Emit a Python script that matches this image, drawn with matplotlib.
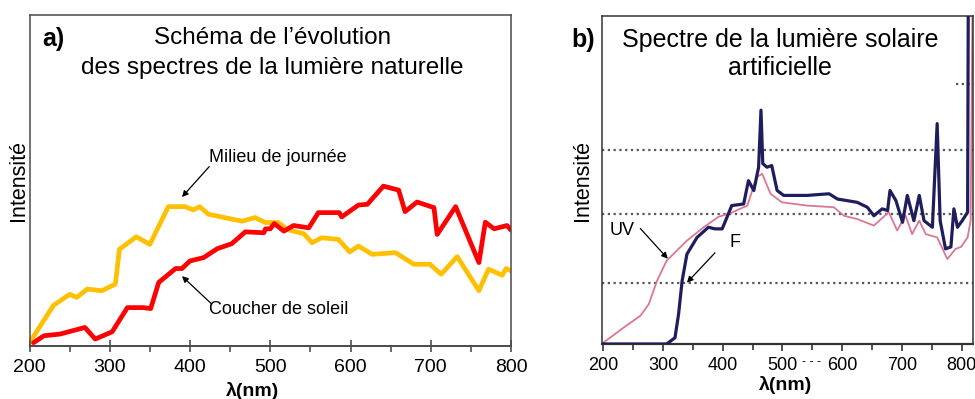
import matplotlib.pyplot as plt

plt.rcParams['font.family'] = ['Liberation Sans', 'DejaVu Sans']

# panel a) - natural light (schematic)
midday_nm = [200, 230, 250, 259, 272, 290, 307, 312, 333, 350, 373, 394, 404, 412, 423,
             465, 481, 494, 510, 521, 542, 552, 564, 585, 599, 610, 627, 656, 679, 699,
             713, 733, 760, 772, 789, 794, 800]
midday_int = [1, 12.3, 15.6, 14.7, 17.2, 16.7, 18.7, 29.2, 33, 30.7, 42.1, 42.1, 41.1, 42.1, 39.8,
              37.7, 38.8, 37.3, 37.3, 35.2, 33.9, 31.2, 32.7, 32.2, 28.4, 30.2, 27.7, 28.2, 24.7, 24.7,
              21.7, 27, 16.7, 23.2, 21.4, 23.4, 22.7]

sunset_nm = [205, 218, 238, 269, 282, 303, 322, 342, 351, 361, 382, 390, 400, 417, 434,
             452, 469, 492, 494, 500, 505, 517, 529, 548, 560, 586, 589, 610, 621, 641,
             660, 668, 683, 704, 708, 731, 760, 768, 779, 795, 800]
sunset_int = [1, 3.1, 3.6, 5.6, 2.1, 4.3, 11.6, 11.6, 11.3, 19.2, 23.4, 23.4, 25.7, 26.7, 29.4,
              30.9, 34.5, 34.2, 35.4, 35.4, 37, 34.7, 36.4, 35.7, 40.3, 40.3, 39, 42.6, 42.8, 48.3,
              47.1, 40.6, 43.5, 41.8, 33.7, 42.1, 25.2, 37.4, 35.4, 36.4, 35]

# panel b) - artificial solar light
uv_nm = [200, 211, 234, 262, 276, 290, 306, 340, 368, 393, 413, 441, 457, 466, 480,
         499, 541, 586, 603, 625, 653, 678, 692, 706, 717, 729, 740, 759, 776, 790,
         799, 810, 815, 818]
uv_int = [0.4, 1.9, 5.0, 8.6, 12.1, 19.3, 25.4, 31.5, 35.6, 38.8, 39.9, 42.2, 50.9, 51.9, 45.8,
          43.2, 42.2, 41.7, 39.1, 38.1, 36.1, 40.2, 34.6, 39.2, 33.5, 37.6, 33.5, 32.5, 25.9, 29,
          29.6, 32.5, 37.6, 100]

f_nm = [200, 306, 320, 326, 332, 340, 357, 376, 387, 399, 407, 415, 435, 443, 452,
        460, 464, 467, 474, 482, 491, 502, 541, 578, 592, 625, 642, 653, 667, 676,
        680, 690, 701, 709, 720, 729, 737, 751, 759, 764, 773, 782, 787, 793, 801,
        810, 811]
f_int = [0, 0, 1.9, 9.1, 19.3, 27.4, 32.5, 35.6, 35.1, 35.1, 38.6, 42.2, 42.7, 49.8, 46.8,
         53.9, 71.3, 55, 53.9, 54.4, 46.8, 45.3, 45.3, 45.8, 44.2, 43.2, 41.7, 39.1, 41.2, 40.7,
         46.8, 43.7, 37.1, 45.3, 37.6, 45.3, 37.6, 35.6, 67.2, 37.6, 29, 29.6, 41.2, 35.6, 37.6,
         40.2, 100]

grid_levels = [18.7, 39.7, 59.0]
ticks = [200, 300, 400, 500, 600, 700, 800]

W, H = 975, 399
fig = plt.figure(figsize=(W / 100, H / 100), dpi=100)


def box(x0, y0, x1, y1):
    return [x0 / W, 1 - y1 / H, (x1 - x0) / W, (y1 - y0) / H]


arrow = dict(arrowstyle='-|>', color='black', lw=0.9, mutation_scale=9, shrinkA=0, shrinkB=0)

# ---------- a) ----------
ax1 = fig.add_axes(box(29.5, 15, 511, 346))
ax1.plot(midday_nm, midday_int, color='#FFC000', lw=3.4, solid_joinstyle='round', solid_capstyle='round')
ax1.plot(sunset_nm, sunset_int, color='#FF0000', lw=3.4, solid_joinstyle='round', solid_capstyle='round')
ax1.set_xlim(200, 800)
ax1.set_ylim(0, 100)
ax1.set_xticks(ticks)
ax1.set_xticks(range(250, 800, 100), minor=True)
ax1.set_yticks([])
ax1.tick_params(axis='x', which='major', direction='inout', length=8, width=1.1,
                color='#404040', labelsize=14, pad=5)
ax1.tick_params(axis='x', which='minor', direction='out', length=4, width=1.1, color='#404040')
for s in ax1.spines.values():
    s.set_color('#4a4a4a')
    s.set_linewidth(1.1)
ax1.spines['bottom'].set_linewidth(1.4)

ax1.text(0.504, 0.931, "Schéma de l’évolution", transform=ax1.transAxes,
         ha='center', va='center', fontsize=17.5)
ax1.text(0.504, 0.840, "des spectres de la lumière naturelle", transform=ax1.transAxes,
         ha='center', va='center', fontsize=17.5)
ax1.text(424, 57, "Milieu de journée", fontsize=13, va='center', ha='left')
ax1.annotate("", xy=(390, 45), xytext=(424, 54.2), arrowprops=arrow)
ax1.text(424, 11, "Coucher de soleil", fontsize=13, va='center', ha='left')
ax1.annotate("", xy=(390, 21.1), xytext=(427, 12.7), arrowprops=arrow)

fig.text(53.5 / W, 1 - 39 / H, "a)", fontsize=18, fontweight='bold', ha='center', va='center')
fig.text(18 / W, 1 - 181 / H, "Intensité", fontsize=15.5, rotation=90, ha='center', va='center')
fig.text(253 / W, 1 - 382 / H, "λ(nm)", fontsize=14, fontweight='bold', ha='center', va='top')

# ---------- b) ----------
ax2 = fig.add_axes(box(601.7, 16, 973, 344))
for g in grid_levels:
    ax2.axhline(g, color='#555555', lw=1.6, ls=(0, (1, 1.6)), zorder=1)
ax2.axhline(79.4, xmin=0.955, xmax=1, color='#555555', lw=1.6, ls=(0, (1, 1.6)), zorder=1)
ax2.plot(uv_nm, uv_int, color='#D8779A', lw=1.3, zorder=2)
ax2.plot(f_nm, f_int, color='#1F1D5C', lw=2.3, zorder=3, solid_joinstyle='round')
ax2.set_xlim(197.3, 819)
ax2.set_ylim(0, 100)
ax2.set_xticks(ticks)
ax2.set_xticks(range(250, 800, 100), minor=True)
ax2.set_yticks([])
ax2.tick_params(axis='x', which='major', direction='out', length=5, width=1.1,
                color='#222222', labelsize=13, pad=4)
ax2.tick_params(axis='x', which='minor', direction='out', length=4, width=1.1, color='#222222')
for s in ax2.spines.values():
    s.set_color('#333333')
    s.set_linewidth(1.1)
ax2.spines['bottom'].set_linewidth(1.6)

ax2.text(0.480, 0.927, "Spectre de la lumière solaire", transform=ax2.transAxes,
         ha='center', va='center', fontsize=18)
ax2.text(0.480, 0.841, "artificielle", transform=ax2.transAxes,
         ha='center', va='center', fontsize=18)
ax2.text(231, 34.6, "UV", fontsize=13, ha='center', va='center')
ax2.annotate("", xy=(308, 26), xytext=(262, 35.2), arrowprops=arrow)
ax2.text(420, 30.9, "F", fontsize=13, ha='center', va='center')
ax2.annotate("", xy=(340, 18.7), xytext=(387, 27.8), arrowprops=arrow)

fig.text(583.5 / W, 1 - 40 / H, "b)", fontsize=18, fontweight='bold', ha='center', va='center')
fig.text(583 / W, 1 - 181 / H, "Intensité", fontsize=15.5, rotation=90, ha='center', va='center')
fig.text(786 / W, 1 - 376 / H, "λ(nm)", fontsize=14, fontweight='bold', ha='center', va='top')
fig.text(811 / W, 1 - 362 / H, "- - -", fontsize=9, ha='center', va='center')

fig.savefig("out.png", dpi=100)
